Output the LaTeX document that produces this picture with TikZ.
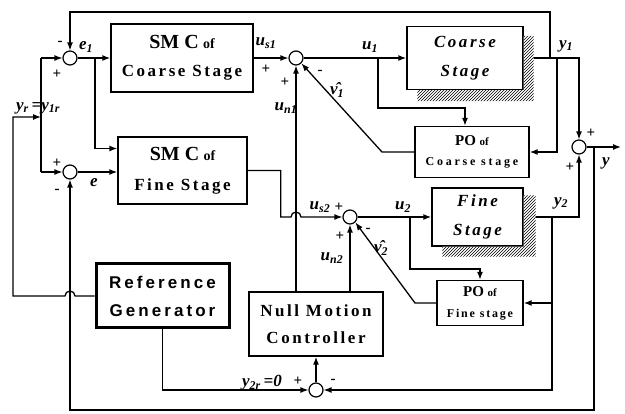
\documentclass[tikz,border=0pt]{standalone}
\usepackage{fontspec}
\setmainfont{Liberation Serif}
\newfontfamily\spfont[LetterSpace=15]{Liberation Serif}
\newfontfamily\wdfont[LetterSpace=23]{Liberation Serif}
\newfontfamily\rgfont[LetterSpace=18]{Liberation Sans}
\usepackage{tikz}
\usetikzlibrary{arrows.meta,patterns}

\newcommand{\sub}[2]{#1\textsubscript{#2}}

\tikzset{
  block/.style={draw,line width=1.3pt,align=center,inner sep=0pt},
  sumj/.style={draw,circle,line width=1.2pt,minimum size=14pt,inner sep=0pt},
  wire/.style={line width=1.3pt},
  arr/.style={wire,-{Latex[length=8pt,width=6pt]}},
  sig/.style={font=\bfseries\itshape\fontsize{17}{17}\selectfont,inner sep=0pt},
  sgn/.style={font=\bfseries\fontsize{15}{15}\selectfont,inner sep=0pt},
  shadow/.style={pattern=north east lines,preaction={fill=white}},
}

\begin{document}
\begin{tikzpicture}[x=1pt,y=-1pt]
  \useasboundingbox (0,0) rectangle (625,414);
  % blocks
  \node[block,minimum width=142pt,minimum height=68pt,font=\bfseries\fontsize{17}{28}\selectfont] (smc1) at (182,58)
    {{\fontsize{20}{20}\selectfont SM C} {\fontsize{14}{14}\selectfont of}\\{\spfont Coarse Stage}};
  \node[block,minimum width=129pt,minimum height=67pt,font=\bfseries\fontsize{17}{30}\selectfont] (smc2) at (182.5,170.5)
    {{\fontsize{20}{20}\selectfont SM C} {\fontsize{14}{14}\selectfont of}\\{\spfont Fine Stage}};
  \node[block,minimum width=116pt,minimum height=63pt,font=\spfont\bfseries\itshape\fontsize{17}{29}\selectfont] (cs) at (465,58)
    {Coarse\\Stage};
  \node[block,minimum width=114pt,minimum height=51pt,font=\bfseries\fontsize{15}{20}\selectfont] (po1) at (472,152)
    {PO {\fontsize{11}{11}\selectfont of}\\{\wdfont\fontsize{12}{12}\selectfont Coarse stage}};
  \node[block,minimum width=91pt,minimum height=58pt,font=\spfont\bfseries\itshape\fontsize{17}{29}\selectfont] (fs) at (477.5,217)
    {Fine\\Stage};
  \node[block,minimum width=86pt,minimum height=45pt,font=\bfseries\fontsize{15}{21}\selectfont] (po2) at (480,303)
    {PO {\fontsize{11}{11}\selectfont of}\\{\spfont\fontsize{12}{12}\selectfont Fine stage}};
  \node[block,minimum width=134pt,minimum height=64pt,font=\spfont\bfseries\fontsize{17}{27}\selectfont] (nmc) at (316,324)
    {Null Motion\\Controller};
  \node[block,line width=3pt,minimum width=133pt,minimum height=64pt,font=\rgfont\bfseries\fontsize{17}{28}\selectfont] (rg) at (162.5,296)
    {Reference\\Generator};
  % summing junctions
  \foreach \n/\p in {s1/{70,58},s2/{70,172},s3/{296,58},s4/{579,147},s5/{350,217},s6/{316,390}}
    \node[sumj] (\n) at (\p) {};
  \coordinate (yr) at (41,117);
  \coordinate (yrt) at (41,58);
  \coordinate (yrb) at (41,172);
  \coordinate (e1b) at (95,58);
  \coordinate (u1b) at (378,58);
  \coordinate (y1a) at (550,58);
  \coordinate (y1b) at (557,58);
  \coordinate (u2b) at (410,217);
  \coordinate (y2b) at (552,217);
  \coordinate (y2c) at (552,303);
  \coordinate (yb) at (594,147);
  \coordinate (yout) at (621,147);

  % reference side
  \draw[arr] (rg.west) -- (75,296) arc[start angle=0,end angle=180,radius=5pt] -- (13,296) |- (yr);
  \draw[wire] (yrt) -- (yrb);
  \draw[arr] (yrt) -- (s1.west);
  \draw[arr] (yrb) -- (s2.west);
  \draw[arr] (s1.east) -- (smc1.west);
  \draw[arr] (e1b) |- ([yshift=22pt]smc2.west);
  \draw[arr] (s2.east) -- (s2.east -| smc2.west);
  \draw[arr] (y1a) -- ++(0,-46) -| (s1.north);

  % coarse loop
  \draw[arr] (smc1.east) -- (s3.west);
  \draw[arr] (s3.east) -- (cs.west);
  \draw[arr] (cs.east) -| (s4.north);
  \draw[arr] (u1b) -- (378,108) -| ([xshift=-7pt]po1.north);
  \draw[arr] (y1b) |- (po1.east);
  \draw[arr] (po1.west) -- (382,152) -- (s3.south east);
  \draw[arr] (s3.south |- nmc.north) -- (s3.south);

  % fine loop
  \draw[arr] (smc2.east) -- ++(33,0) |- (291,217) arc[start angle=180,end angle=0,radius=5pt] -- (s5.west);
  \draw[arr] (s5.east) -- (fs.west);
  \draw[arr] (fs.east) -| (s4.south);
  \draw[arr] (u2b) -- (410,269) -| (po2.north);
  \draw[arr] (y2b) |- (s6.east);
  \draw[arr] (y2c) -- (po2.east);
  \draw[arr] (po2.west) -- (415,303) -- (s5.south east);
  \draw[arr] (s5.south |- nmc.north) -- (s5.south);

  % null motion
  \draw[arr] (rg.south) |- (s6.west);
  \draw[arr] (s6.north) -- (nmc.south);

  % output
  \draw[arr] (s4.east) -- (yout);
  \draw[arr] (yb) -- (594,410) -| (s2.south);

  % shadows
  \path[shadow] ([yshift=-10pt]cs.north east) -- ++(10,0) |- ([xshift=11pt,yshift=-11pt]cs.south west) -- ++(0,-11) -| (cs.south east) -- cycle;
  \path[shadow] ([yshift=-8pt]fs.north east) -- ++(12,0) |- ([xshift=11pt,yshift=-10pt]fs.south west) -- ++(0,-10) -| (fs.south east) -- cycle;

  % labels
  \node[sgn] (m1) at (60,43) {-};
  \node[sgn] (p1) at (57,74) {+};
  \node[sig] (le1) at (86,47) {\sub{e}{1}};
  \node[sgn] (p2) at (57,163) {+};
  \node[sgn] (m2) at (57,191) {-};
  \node[sig] (le) at (94,183) {e};
  \node[sig] (lyr) at (38,108) {\sub{y}{r}\,=\sub{y}{1r}};
  \node[sig] (lus1) at (266,43) {\sub{u}{s1}};
  \node[sgn] (p3) at (266,69) {+};
  \node[sgn] (p4) at (285,82) {+};
  \node[sgn] (m3) at (320,72) {-};
  \node[sig] (lun1) at (286,108) {\sub{u}{n1}};
  \node[sig] (lv1) at (337,90) {\sub{\^{ν}}{1}};
  \node[sig] (lu1) at (370,47) {\sub{u}{1}};
  \node[sig] (ly1) at (566,46) {\sub{y}{1}};
  \node[sgn] (p5) at (591,133) {+};
  \node[sgn] (p6) at (570,167) {+};
  \node[sig] (ly) at (606,163) {y};
  \node[sig] (ly2) at (561,203) {\sub{y}{2}};
  \node[sig] (lus2) at (320,207) {\sub{u}{s2}};
  \node[sgn] (p7) at (339,207) {+};
  \node[sgn] (p8) at (340,236) {+};
  \node[sgn] (m4) at (368,230) {-};
  \node[sig] (lun2) at (332,258) {\sub{u}{n2}};
  \node[sig] (lv2) at (381,248) {\sub{\^{ν}}{2}};
  \node[sig] (lu2) at (403,207) {\sub{u}{2}};
  \node[sgn] (p9) at (298,381) {+};
  \node[sgn] (m5) at (333,381) {-};
  \node[sig] (ly2r) at (262,383) {\sub{y}{2r}\,=0};
\end{tikzpicture}
\end{document}
